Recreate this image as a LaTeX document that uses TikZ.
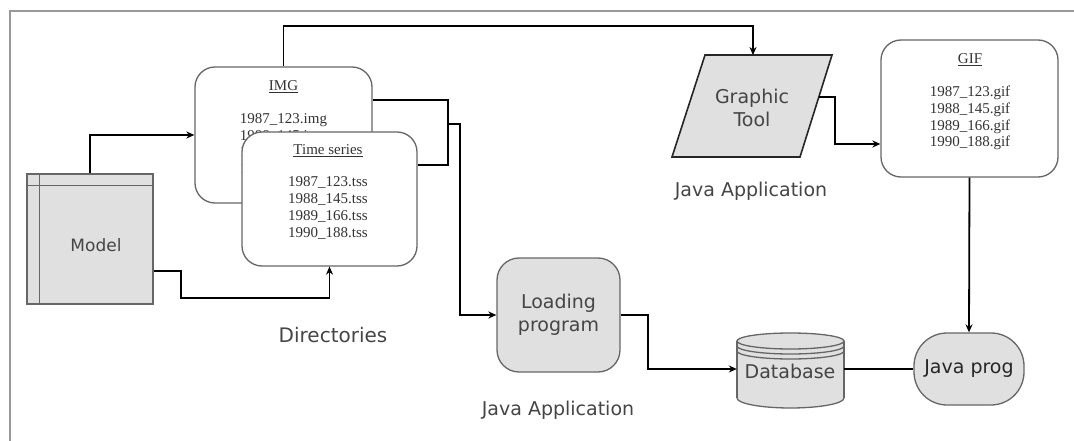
\documentclass[tikz,border=0pt]{standalone}
\usepackage{fontspec}
\setmainfont{Liberation Serif}
\newfontfamily\dvs{DejaVu Sans}
\usetikzlibrary{arrows.meta,calc}
\definecolor{boxfill}{HTML}{E0E0E0}
\definecolor{boxline}{HTML}{666666}
\definecolor{lbltext}{HTML}{454545}
\begin{document}
\begin{tikzpicture}[x=1pt,y=-1pt,
  conn/.style={line width=1.8pt, black},
  arr/.style={conn, -{Stealth[length=8pt,width=7pt]}},
  filebox/.style={draw=boxline, line width=1.3pt, fill=white, rounded corners=20pt, inner sep=0pt},
  graybox/.style={draw=boxline, line width=1.3pt, fill=boxfill, inner sep=0pt},
  lbl/.style={font=\dvs\fontsize{19}{23}\selectfont, text=lbltext, inner sep=0pt, align=center},
  files/.style={font=\fontsize{15}{16.7}\selectfont, text=black!80, align=center, inner sep=0pt},
  dbline/.style={draw=boxline, line width=1.3pt}
]
\useasboundingbox (0,0) rectangle (1074,441);
% frame
\draw[black!40, line width=2pt] (10,441) -- (10,11) -- (1074,11);

% Model
\node[graybox, minimum width=126pt, minimum height=130pt] (model) at (90,239) {};
\draw[boxline, line width=1.3pt] ($(model.north west)+(13,0)$) -- ($(model.south west)+(13,0)$);
\draw[boxline, line width=1.3pt] ($(model.north west)+(0,12)$) -- ($(model.north east)+(0,12)$);
\node[lbl, font=\dvs\fontsize{17}{20}\selectfont] (modeltext) at (96,245) {Model};

% IMG directory
\node[filebox, minimum width=177pt, minimum height=136pt] (img) at (283.5,135) {};
\node[files] (imgtitle) at (283.5,87) {\underline{IMG}};
\node[files] (imgfiles) at (283.5,145) {1987\_123.img\\1988\_145.img\\1989\_166.img\\1990\_188.img};

% Time series directory
\node[filebox, minimum width=175pt, minimum height=134pt] (ts) at (329.5,199) {};
\node[files] (tstitle) at (328,151) {\underline{Time series}};
\node[files] (tsfiles) at (328,208) {1987\_123.tss\\1988\_145.tss\\1989\_166.tss\\1990\_188.tss};

\node[lbl, font=\dvs\fontsize{20}{24}\selectfont] (dirlbl) at (333,335) {Directories};

% Graphic tool
\coordinate (gtA) at (705,55);
\coordinate (gtB) at (832,55);
\coordinate (gtC) at (800,157);
\coordinate (gtD) at (672,157);
\draw[black!85, line width=1.6pt, fill=boxfill] (gtA) -- (gtB) -- (gtC) -- (gtD) -- cycle;
\coordinate (gtTop) at (753,55);
\coordinate (gtRight) at (819,97);
\node[lbl] (gttext) at (752,108) {Graphic\\Tool};
\node[lbl] (gtlbl) at (751,191) {Java Application};

% GIF directory
\node[filebox, minimum width=177pt, minimum height=137pt] (gif) at (969.5,108.5) {};
\node[files] (giftitle) at (970,60) {\underline{GIF}};
\node[files] (giffiles) at (970,118) {1987\_123.gif\\1988\_145.gif\\1989\_166.gif\\1990\_188.gif};

% Loading program
\node[graybox, rounded corners=22pt, minimum width=123pt, minimum height=114pt, lbl, inner sep=0pt] (loading) at (558.5,315) {Loading\\program};
\node[lbl] (loadlbl) at (558,410) {Java Application};

% Database
\node[minimum width=107pt, minimum height=75pt, inner sep=0pt] (db) at (790.5,369) {};
\fill[boxfill] (737,341) rectangle (844,398);
\fill[boxfill] (790.5,398) ellipse[x radius=53.5, y radius=10];
\draw[dbline] (737,341) -- (737,398);
\draw[dbline] (844,341) -- (844,398);
\draw[dbline] (737,398) arc[start angle=180, end angle=0, x radius=53.5, y radius=10];
\draw[dbline, fill=boxfill] (790.5,341) ellipse[x radius=53.5, y radius=8];
\draw[dbline] (737,346) arc[start angle=180, end angle=0, x radius=53.5, y radius=8];
\draw[dbline] (737,351) arc[start angle=180, end angle=0, x radius=53.5, y radius=8];
\node[lbl] (dbtext) at (790,371) {Database};

% Java prog
\node[graybox, rounded corners=33pt, minimum width=110pt, minimum height=72pt, lbl, text=black!85] (jp) at (969,369) {Java prog};

% connectors
\draw[arr] (model.north) |- (img.west);
\draw[arr] ($(model.east)+(0,32)$) -- ++(27,0) |- ($(ts.south)+(0,31)$) -- (ts.south);
\draw[arr] (img.north) -- ++(0,-40) -| (gtTop);
\draw[conn] ($(img.east)+(0,-35)$) -- ++(75,0) |- ($(ts.east)+(0,-34)$);
\coordinate (junction) at (447,124);
\draw[arr] (junction) -- ++(13,0) |- (loading.west);
\draw[arr] (loading.east) -- ++(27,0) |- (db.west);
\draw[conn] (db.east) -- (jp.west);
\draw[arr] (gif.south) -- (jp.north);
\draw[arr] (gtRight) -- ++(16,0) |- ($(gif.west)+(0,35.5)$);
\end{tikzpicture}
\end{document}
